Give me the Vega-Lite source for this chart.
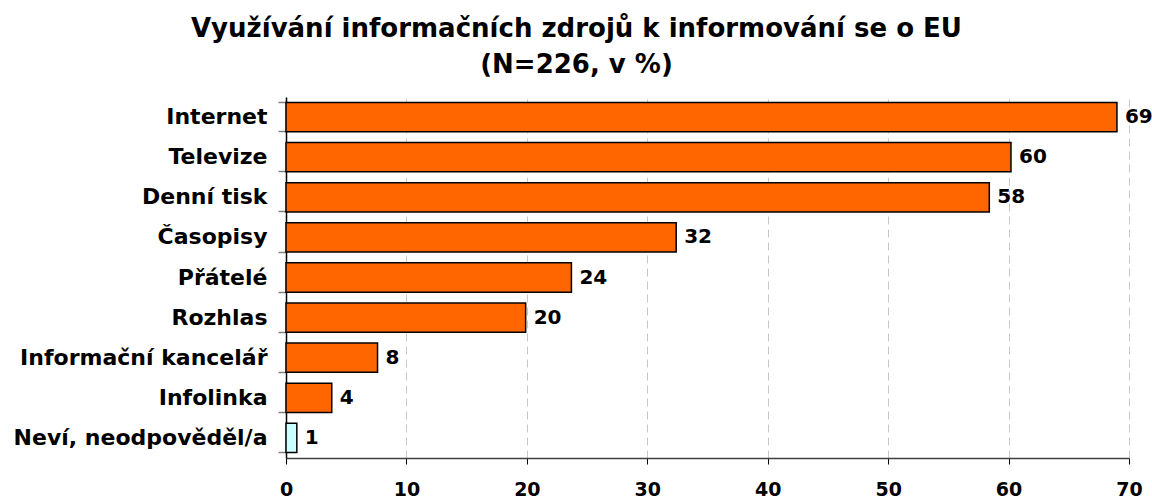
{
  "$schema": "https://vega.github.io/schema/vega-lite/v6.json",
  "autosize": {"type": "none"},
  "width": 843,
  "height": 361,
  "padding": {"left": 286, "top": 97, "right": 23, "bottom": 40},
  "background": "white",
  "config": {
    "font": "DejaVu Sans",
    "view": {"stroke": null}
  },
  "title": {
    "text": ["Využívání informačních zdrojů k informování se o EU", "(N=226, v %)"],
    "font": "DejaVu Sans",
    "fontSize": 26,
    "fontWeight": "bold",
    "color": "black",
    "lineHeight": 36,
    "anchor": "middle",
    "dx": -131,
    "dy": -4
  },
  "data": {
    "values": [
      {"zdroj": "Internet", "hodnota": 69.0, "skupina": "zdroj"},
      {"zdroj": "Televize", "hodnota": 60.2, "skupina": "zdroj"},
      {"zdroj": "Denní tisk", "hodnota": 58.4, "skupina": "zdroj"},
      {"zdroj": "Časopisy", "hodnota": 32.4, "skupina": "zdroj"},
      {"zdroj": "Přátelé", "hodnota": 23.7, "skupina": "zdroj"},
      {"zdroj": "Rozhlas", "hodnota": 19.9, "skupina": "zdroj"},
      {"zdroj": "Informační kancelář", "hodnota": 7.6, "skupina": "zdroj"},
      {"zdroj": "Infolinka", "hodnota": 3.8, "skupina": "zdroj"},
      {"zdroj": "Neví, neodpověděl/a", "hodnota": 0.9, "skupina": "nevi"}
    ]
  },
  "encoding": {
    "y": {
      "field": "zdroj",
      "type": "nominal",
      "sort": null,
      "scale": {"paddingInner": 0.27, "paddingOuter": 0.135},
      "axis": {
        "title": null,
        "labelFont": "DejaVu Sans",
        "labelFontSize": 22,
        "labelFontWeight": "bold",
        "labelColor": "black",
        "labelPadding": 11,
        "labelLimit": 400,
        "tickSize": 8,
        "tickColor": "#808080",
        "tickWidth": 1.5,
        "domainColor": "black",
        "domainWidth": 1.5,
        "bandPosition": 1,
        "tickExtra": true,
        "grid": false
      }
    },
    "x": {
      "field": "hodnota",
      "type": "quantitative",
      "scale": {"domain": [0, 70], "nice": false},
      "axis": {
        "title": null,
        "values": [0, 10, 20, 30, 40, 50, 60, 70],
        "labelFont": "DejaVu Sans",
        "labelFontSize": 19,
        "labelFontWeight": "bold",
        "labelColor": "black",
        "labelPadding": 16,
        "labelFlush": false,
        "labelOverlap": false,
        "tickSize": 6,
        "tickColor": "black",
        "domainColor": "#404040",
        "domainWidth": 1.5,
        "grid": true,
        "gridColor": "#C8C8C8",
        "gridDash": [8, 5],
        "gridWidth": 1
      }
    }
  },
  "layer": [
    {
      "mark": {"type": "bar", "stroke": "black", "strokeWidth": 1.5},
      "encoding": {
        "color": {
          "field": "skupina",
          "type": "nominal",
          "scale": {"domain": ["zdroj", "nevi"], "range": ["#FF6600", "#CCFFFF"]},
          "legend": null
        }
      }
    },
    {
      "mark": {
        "type": "text",
        "align": "left",
        "baseline": "middle",
        "dx": 8,
        "font": "DejaVu Sans",
        "fontSize": 20,
        "fontWeight": "bold",
        "color": "black"
      },
      "encoding": {
        "text": {"field": "hodnota", "type": "quantitative", "format": ".0f"}
      }
    }
  ]
}
